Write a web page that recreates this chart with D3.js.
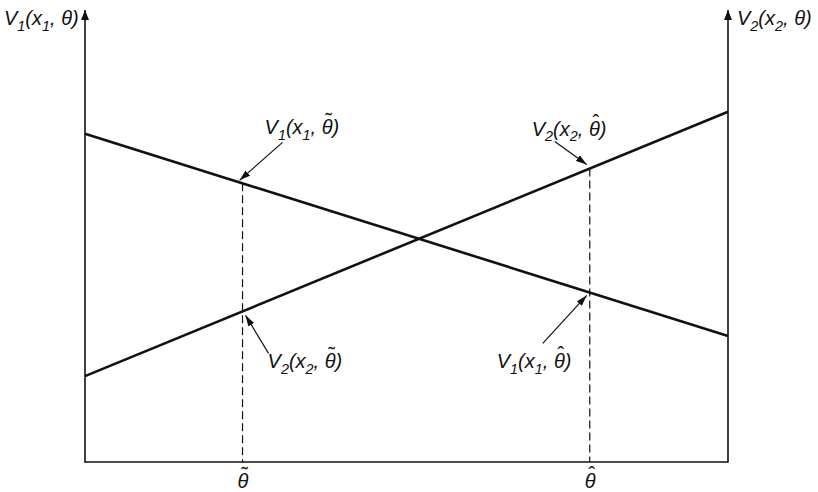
<!DOCTYPE html>
<html>
<head>
<meta charset="utf-8">
<script src="https://cdn.jsdelivr.net/npm/d3@7"></script>
<style>
  html, body { margin: 0; padding: 0; background: #fff; }
  svg text { font-family: "Liberation Sans", Arial, Helvetica, sans-serif; font-style: italic; fill: #111; }
</style>
</head>
<body>
<svg id="chart" width="818" height="492"></svg>
<script>
// Two value functions of theta: V1 falls, V2 rises across the theta range.
const thetaDomain = [0, 10];
const thetaEnds = [0, 10];
const v1Values = [7.26, 2.79];
const v2Values = [1.90, 7.75];

// Special theta values marked on the horizontal axis, with their accents.
const markTheta = [2.45, 7.85];
const markAccents = ["\u02DC", "\u02C6"];

const svg = d3.select("#chart");
const ink = "#111";
const fontSize = 20;
const tickPad = 12;
const accentRise = 7;

const margin = { left: 85, right: 90, top: 10, bottom: 30 };
const W = 818, H = 492;

const x = d3.scaleLinear().domain(thetaDomain).range([margin.left, W - margin.right]);
const y = d3.scaleLinear().domain([0, 10]).range([H - margin.bottom, margin.top]);

const x0 = x(thetaDomain[0]), x1 = x(thetaDomain[1]);
const yBase = y(0), yTop = y(10);

function lineAt(vals, t) {
  const f = (t - thetaEnds[0]) / (thetaEnds[1] - thetaEnds[0]);
  return vals[0] + f * (vals[1] - vals[0]);
}

// Arrowhead markers
const defs = svg.append("defs");
defs.append("marker")
  .attr("id", "axisHead").attr("viewBox", "0 0 10 10")
  .attr("refX", 10).attr("refY", 5)
  .attr("markerWidth", 10).attr("markerHeight", 10)
  .attr("markerUnits", "userSpaceOnUse").attr("orient", "auto")
  .append("path").attr("d", "M0,1 L10,5 L0,9 Z").attr("fill", ink);
defs.append("marker")
  .attr("id", "noteHead").attr("viewBox", "0 0 11 8")
  .attr("refX", 11).attr("refY", 4)
  .attr("markerWidth", 11).attr("markerHeight", 8)
  .attr("markerUnits", "userSpaceOnUse").attr("orient", "auto")
  .append("path").attr("d", "M0,0.6 L11,4 L0,7.4 Z").attr("fill", ink);

// Frame: bottom axis and two vertical value axes with arrowheads
svg.append("line")
  .attr("x1", x0).attr("x2", x1).attr("y1", yBase).attr("y2", yBase)
  .attr("stroke", ink).attr("stroke-width", 1.7);
[x0, x1].forEach(xx => {
  svg.append("line")
    .attr("x1", xx).attr("x2", xx).attr("y1", yBase + 0.8).attr("y2", yTop)
    .attr("stroke", ink).attr("stroke-width", 1.6)
    .attr("marker-end", "url(#axisHead)");
});

// Accent glyph (tilde / hat) written as its own text element
function accentText(parent, accent, ax, ay) {
  parent.append("text")
    .attr("x", ax).attr("y", ay)
    .attr("text-anchor", "middle")
    .style("font-size", fontSize + "px")
    .style("font-style", "normal")
    .text(accent);
}

// Bottom axis tick labels (no tick marks), each θ carrying its accent
const xAxis = d3.axisBottom(x).tickValues(markTheta)
  .tickFormat(() => "θ").tickSize(0).tickPadding(tickPad);
const gx = svg.append("g").attr("transform", `translate(0,${yBase})`).call(xAxis);
gx.select(".domain").remove();
gx.selectAll("text")
  .style("font-size", fontSize + "px").style("font-style", "italic")
  .style("font-family", "'Liberation Sans', Arial, sans-serif")
  .attr("fill", ink);
gx.selectAll(".tick").each(function (d, i) {
  const base = tickPad + 0.71 * fontSize;
  accentText(d3.select(this), markAccents[i], 1.5, base - accentRise);
});

// Dashed verticals from the upper line down to the axis
markTheta.forEach(t => {
  const top = Math.min(y(lineAt(v1Values, t)), y(lineAt(v2Values, t)));
  svg.append("line")
    .attr("x1", x(t)).attr("x2", x(t)).attr("y1", top).attr("y2", yBase)
    .attr("stroke", ink).attr("stroke-width", 1.2)
    .attr("stroke-dasharray", "8,4");
});

// The two value lines
const line = d3.line().x(d => x(d[0])).y(d => y(d[1]));
[v1Values, v2Values].forEach(vals => {
  svg.append("path")
    .datum(thetaEnds.map((t, i) => [t, vals[i]]))
    .attr("d", line)
    .attr("fill", "none").attr("stroke", ink).attr("stroke-width", 2.6);
});

// Label writer: V_k(x_k, θ) with subscripts and optional accent on θ
function valueLabel(k, accent, px, py) {
  const s = fontSize;
  const t = svg.append("text").attr("x", px).attr("y", py).style("font-size", s + "px");
  t.append("tspan").text("V");
  t.append("tspan").text(k).attr("dy", s * 0.28).style("font-size", (s * 0.72) + "px");
  t.append("tspan").text("(x").attr("dy", -s * 0.28);
  t.append("tspan").text(k).attr("dy", s * 0.28).style("font-size", (s * 0.72) + "px");
  t.append("tspan").text(", θ)").attr("dy", -s * 0.28);
  if (accent) {
    const node = t.node();
    const box = node.getExtentOfChar(node.textContent.indexOf("θ"));
    accentText(svg, accent, box.x + box.width / 2 + 1.5, py - accentRise);
  }
  return t;
}

// Axis captions
valueLabel("1", null, 4, 25);
valueLabel("2", null, 737, 25);

// Callouts pointing at the line values at the marked thetas
const callouts = [
  { k: "1", vals: v1Values, t: markTheta[0], acc: markAccents[0], from: [40, -41], gap: [-3, -3], text: [22, -49] },
  { k: "2", vals: v2Values, t: markTheta[1], acc: markAccents[1], from: [-35, -27], gap: [-3, -4], text: [-58, -33] },
  { k: "2", vals: v2Values, t: markTheta[0], acc: markAccents[0], from: [26, 42], gap: [3, 4], text: [25, 57] },
  { k: "1", vals: v1Values, t: markTheta[1], acc: markAccents[1], from: [-47, 51], gap: [-3, 3], text: [-93, 76] }
];
callouts.forEach(c => {
  const px = x(c.t), py = y(lineAt(c.vals, c.t));
  svg.append("line")
    .attr("x1", px + c.from[0]).attr("y1", py + c.from[1])
    .attr("x2", px + c.gap[0]).attr("y2", py + c.gap[1])
    .attr("stroke", ink).attr("stroke-width", 1.2)
    .attr("marker-end", "url(#noteHead)");
  valueLabel(c.k, c.acc, px + c.text[0], py + c.text[1]);
});
</script>
</body>
</html>
